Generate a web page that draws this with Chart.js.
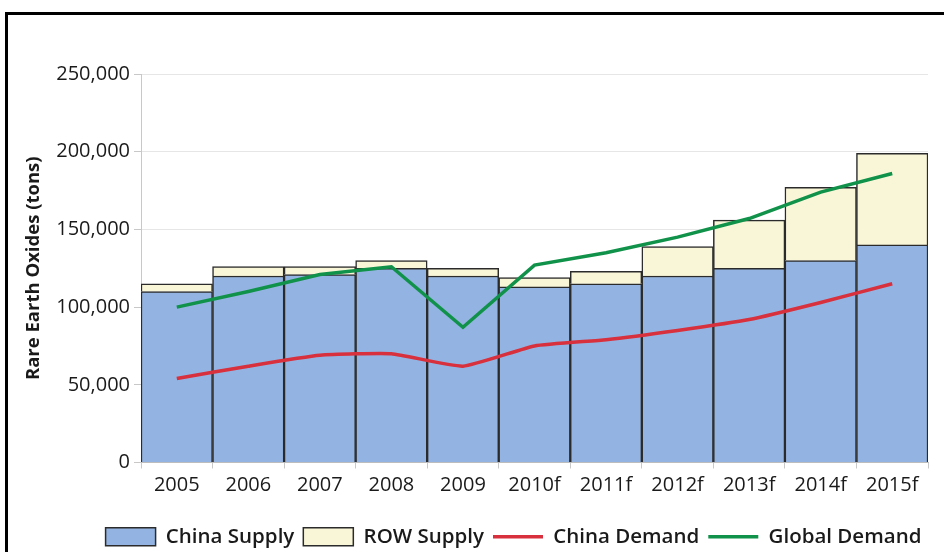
<!DOCTYPE html>
<html>
<head>
<meta charset="utf-8">
<script src="https://cdn.jsdelivr.net/npm/chart.js@4.4.1/dist/chart.umd.min.js"></script>
<style>
  html, body { margin: 0; padding: 0; background: #fff; overflow: hidden; }
  #frame {
    position: absolute; left: 5px; top: 12px; width: 1100px; height: 600px;
    border-left: 3px solid #000; border-top: 3px solid #000;
  }
  #wrap { position: absolute; left: 0; top: 0; width: 1024px; height: 557px; }
</style>
</head>
<body>
<div id="frame"></div>
<div id="wrap"><canvas id="reoChart"></canvas></div>
<script>
// years on the x axis (f = forecast)
const years = ['2005', '2006', '2007', '2008', '2009', '2010f', '2011f', '2012f', '2013f', '2014f', '2015f'];

// tons of rare earth oxides
const chinaSupply = [110000, 120000, 121000, 125000, 120000, 113000, 115000, 120000, 125000, 130000, 140000];
const rowSupply = [5000, 6000, 5000, 5000, 5000, 6000, 8000, 19000, 31000, 47000, 59000];
const chinaDemand = [54000, 62000, 69000, 70000, 62000, 75000, 79000, 85000, 92000, 103000, 115000];
const globalDemand = [100000, 110000, 121000, 126000, 87000, 127000, 135000, 145000, 157000, 174000, 186000];

const yTicks = [0, 50000, 100000, 150000, 200000, 250000];

const fontFamily = '"Open Sans", sans-serif';

// the legend sits a bit right of the plot centre in the original
const shiftLegend = {
    id: 'shiftLegend',
    afterLayout(chart) {
        chart.legend.left += 38;
        chart.legend.right += 38;
    }
};

const ctx = document.getElementById('reoChart').getContext('2d');
const reoChart = new Chart(ctx, {
    data: {
        labels: years,
        datasets: [{
            type: 'bar',
            label: 'China Supply',
            data: chinaSupply,
            backgroundColor: '#93b4e2',
            borderColor: '#2b2b2b',
            borderWidth: 1.5,
            stack: 'supply',
            order: 2
        }, {
            type: 'bar',
            label: 'ROW Supply',
            data: rowSupply,
            backgroundColor: '#f9f6d8',
            borderColor: '#2b2b2b',
            borderWidth: 1.5,
            stack: 'supply',
            order: 2
        }, {
            type: 'line',
            label: 'China Demand',
            data: chinaDemand,
            borderColor: '#d8303c',
            backgroundColor: '#d8303c',
            borderWidth: 3.5,
            pointRadius: 0,
            tension: 0.15,
            stack: 'cd',
            order: 1
        }, {
            type: 'line',
            label: 'Global Demand',
            data: globalDemand,
            borderColor: '#11924a',
            backgroundColor: '#11924a',
            borderWidth: 3.5,
            pointRadius: 0,
            tension: 0,
            stack: 'gd',
            order: 0
        }]
    },
    plugins: [shiftLegend],
    options: {
        responsive: true,
        maintainAspectRatio: false,
        animation: false,
        layout: {
            padding: { left: 23, right: 96, top: 74, bottom: 0 }
        },
        datasets: {
            bar: { categoryPercentage: 1.0, barPercentage: 1.0 }
        },
        scales: {
            x: {
                stacked: true,
                offset: true,
                afterFit: axis => { axis.height += 15; },
                grid: {
                    offset: true,
                    drawOnChartArea: false,
                    tickLength: 6,
                    color: '#c8c8c8'
                },
                border: { color: '#bdbdbd' },
                ticks: {
                    color: '#1a1a1a',
                    font: { family: fontFamily, size: 20 },
                    maxRotation: 0,
                    padding: 5
                }
            },
            y: {
                stacked: true,
                min: 0,
                max: 250000,
                afterBuildTicks: function(axis) {
                    axis.ticks = yTicks.map(v => ({ value: v }));
                },
                afterFit: axis => { axis.width = 118; },
                grid: {
                    color: '#e6e6e6',
                    tickLength: 7,
                    tickColor: '#c8c8c8'
                },
                border: { color: '#c8c8c8' },
                ticks: {
                    color: '#1a1a1a',
                    font: { family: fontFamily, size: 20 },
                    padding: 4,
                    callback: v => v.toLocaleString('en-US')
                },
                title: {
                    display: true,
                    text: 'Rare Earth Oxides (tons)',
                    color: '#1a1a1a',
                    font: { family: fontFamily, size: 18.5, weight: '700' },
                    padding: { top: 0, bottom: 6 }
                }
            }
        },
        plugins: {
            legend: {
                position: 'bottom',
                labels: {
                    usePointStyle: true,
                    pointStyleWidth: 50,
                    boxHeight: 18,
                    padding: 9,
                    color: '#1a1a1a',
                    font: { family: fontFamily, size: 20.5, weight: '600' },
                    sort: (a, b) => a.datasetIndex - b.datasetIndex,
                    generateLabels: function(chart) {
                        const items = Chart.defaults.plugins.legend.labels.generateLabels(chart);
                        items.forEach(item => {
                            const ds = chart.data.datasets[item.datasetIndex];
                            if (ds.type === 'line') {
                                item.pointStyle = 'line';
                                item.lineWidth = 3.5;
                                item.strokeStyle = ds.borderColor;
                            } else {
                                item.pointStyle = 'rect';
                                item.lineWidth = 1.5;
                            }
                        });
                        return items;
                    }
                }
            },
            tooltip: { enabled: false }
        }
    }
});
</script>
</body>
</html>
